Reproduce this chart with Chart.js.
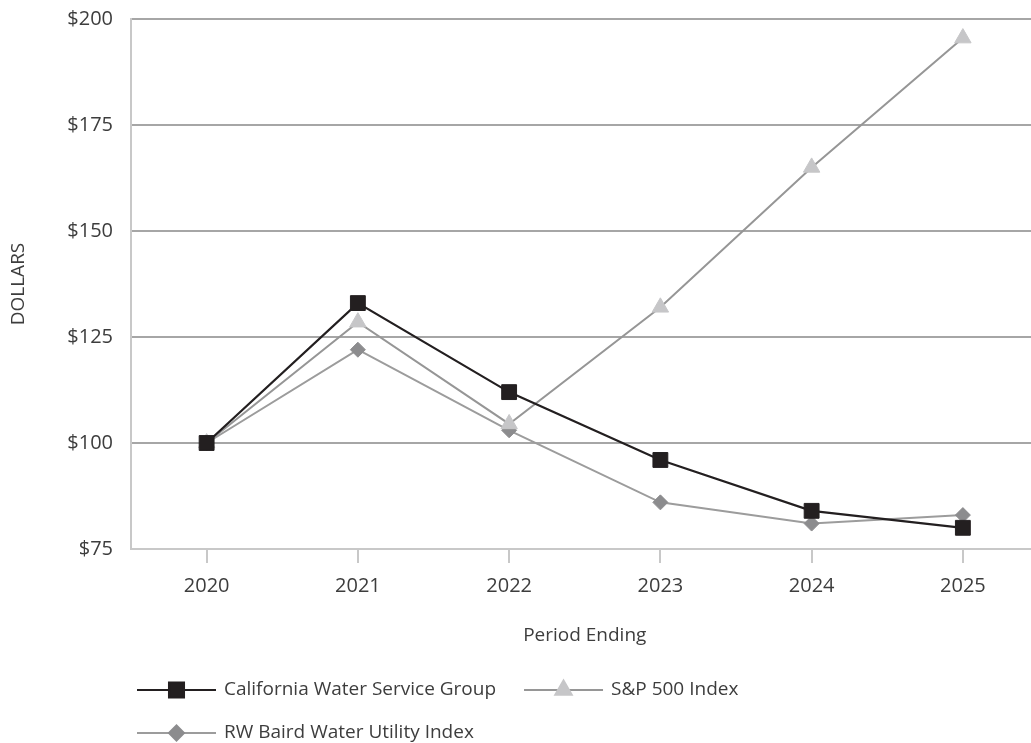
<!DOCTYPE html>
<html>
<head>
<meta charset="utf-8">
<script src="https://cdn.jsdelivr.net/npm/chart.js@4/dist/chart.umd.min.js"></script>
<style>
	html, body { margin: 0; padding: 0; background: #fff; overflow: hidden; }
	#wrap { width: 1031px; height: 743px; overflow: hidden; }
	canvas { display: block; }
</style>
</head>
<body>
<div id="wrap"><canvas id="myChart" width="1050" height="743"></canvas></div>
<script>
// chart data
const years = ['2020', '2021', '2022', '2023', '2024', '2025']
const calWater = [100, 133, 112, 96, 84, 80]
const sp500 = [100, 128.5, 104.5, 132, 165, 195.5]
const rwBaird = [100, 122, 103, 86, 81, 83]
const yTicks = [75, 100, 125, 150, 175, 200]

const family = "'Open Sans', 'Noto Sans', sans-serif"
const font = { family: family, size: 19, weight: '400' }
const tickFont = { family: family, size: 20, weight: '400' }
const textColor = '#3d3d3d'

// legend drawn under the axis title, wrapping into rows
const legendPlugin = {
	id: 'flowLegend',
	afterDraw: chart => {
		const ctx = chart.ctx
		const startX = 137
		const maxX = 830
		const rowY = [690, 733]
		let x = startX
		let row = 0
		ctx.save()
		ctx.font = `${font.weight} ${font.size}px ${font.family}`
		ctx.textBaseline = 'middle'
		chart.data.datasets.forEach(ds => {
			const textW = ctx.measureText(ds.label).width
			const itemW = 79 + 8 + textW
			if (x + itemW > maxX && x !== startX) {
				row++
				x = startX
			}
			const y = rowY[row]
			ctx.strokeStyle = ds.borderColor
			ctx.lineWidth = ds.borderWidth
			ctx.beginPath()
			ctx.moveTo(x, y)
			ctx.lineTo(x + 79, y)
			ctx.stroke()
			ctx.fillStyle = ds.pointBackgroundColor
			ctx.strokeStyle = ds.pointBorderColor
			Chart.helpers.drawPoint(ctx, {
				pointStyle: ds.pointStyle,
				radius: ds.pointRadius,
				rotation: 0,
				borderWidth: 1
			}, x + 39.5, y)
			ctx.fillStyle = textColor
			ctx.fillText(ds.label, x + 87, y)
			x += itemW + 28
		})
		ctx.restore()
	}
}

const chart = document.querySelector('#myChart').getContext('2d')

const myChart = new Chart(chart, {
	type: 'line',
	data: {
		labels: years,
		datasets: [
			{
				label: 'California Water Service Group',
				data: calWater,
				borderColor: '#231f20',
				borderWidth: 2.2,
				pointStyle: 'rect',
				pointRadius: 10.5,
				pointBackgroundColor: '#231f20',
				pointBorderColor: '#231f20',
				pointBorderWidth: 1,
				tension: 0
			},
			{
				label: 'S&P 500 Index',
				data: sp500,
				borderColor: '#969696',
				borderWidth: 2,
				pointStyle: 'triangle',
				pointRadius: 9.5,
				pointBackgroundColor: '#c6c6c8',
				pointBorderColor: '#c6c6c8',
				pointBorderWidth: 1,
				tension: 0
			},
			{
				label: 'RW Baird Water Utility Index',
				data: rwBaird,
				borderColor: '#9c9c9c',
				borderWidth: 2,
				pointStyle: 'rectRot',
				pointRadius: 7.5,
				pointBackgroundColor: '#8c8c8e',
				pointBorderColor: '#8c8c8e',
				pointBorderWidth: 1,
				tension: 0
			}
		]
	},
	options: {
		responsive: false,
		animation: false,
		devicePixelRatio: 1,
		layout: { padding: { left: 0, right: 7, top: 19, bottom: 84 } },
		plugins: {
			legend: { display: false },
			tooltip: { enabled: false }
		},
		scales: {
			x: {
				type: 'category',
				offset: true,
				afterFit: scale => {
					scale.height = 110
					scale.paddingLeft = 0
					scale.paddingRight = 0
				},
				grid: {
					drawOnChartArea: false,
					drawTicks: true,
					tickLength: 14,
					color: '#c8c8c8',
					lineWidth: 2
				},
				border: { color: '#c8c8c8', width: 2 },
				ticks: { color: textColor, font: tickFont, padding: 11 },
				title: {
					display: true,
					text: 'Period Ending',
					color: textColor,
					font: font,
					padding: { top: 0, bottom: 12 }
				}
			},
			y: {
				min: 75,
				max: 200,
				afterFit: scale => {
					scale.width = 131
					scale.paddingTop = 0
					scale.paddingBottom = 0
				},
				afterBuildTicks: scale => {
					scale.ticks = yTicks.map(v => ({ value: v }))
				},
				grid: {
					drawTicks: false,
					color: ctx => (ctx.tick && ctx.tick.value === 75 ? 'rgba(0,0,0,0)' : '#a6a6a6'),
					lineWidth: 2
				},
				border: { color: '#c8c8c8', width: 2 },
				ticks: {
					color: textColor,
					font: tickFont,
					padding: 18,
					callback: v => '$' + v
				},
				title: {
					display: true,
					text: 'DOLLARS',
					color: textColor,
					font: font,
					padding: { top: 7, bottom: 0 }
				}
			}
		}
	},
	plugins: [legendPlugin]
})
</script>
</body>
</html>
